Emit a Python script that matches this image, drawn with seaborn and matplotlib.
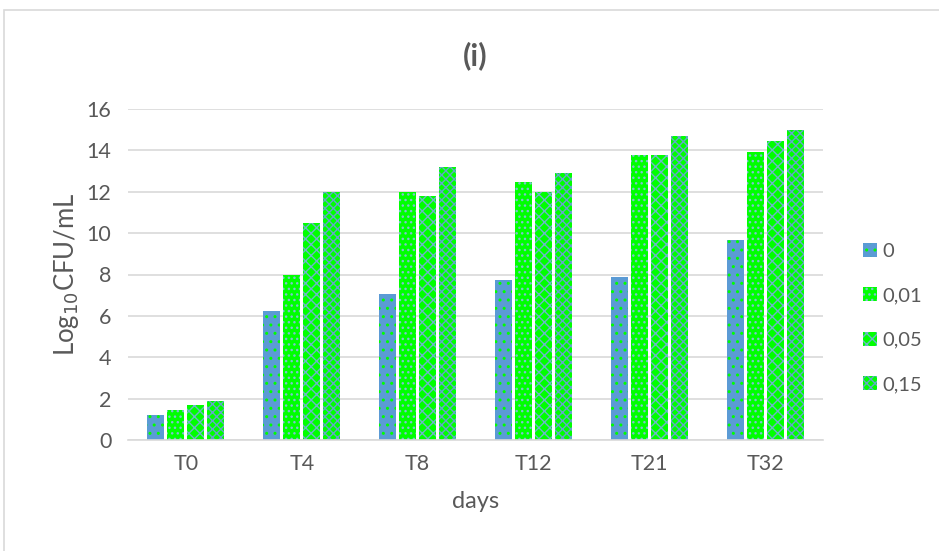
import numpy as np
import pandas as pd
import seaborn as sns
import matplotlib.pyplot as plt
from matplotlib.patches import Rectangle

days = ['T0', 'T4', 'T8', 'T12', 'T21', 'T32']
conc_labels = ['0', '0,01', '0,05', '0,15']
vals_0 = [1.2, 6.25, 7.05, 7.75, 7.9, 9.65]
vals_001 = [1.45, 8.0, 12.0, 12.45, 13.8, 13.9]
vals_005 = [1.7, 10.5, 11.8, 12.0, 13.8, 14.45]
vals_015 = [1.9, 12.0, 13.2, 12.9, 14.7, 15.0]

df = pd.DataFrame({
    'day': days * 4,
    'conc': np.repeat(conc_labels, len(days)),
    'value': vals_0 + vals_001 + vals_005 + vals_015,
})

sns.set_style('white')
plt.rcParams['font.family'] = ['Lato', 'DejaVu Sans']
plt.rcParams['hatch.linewidth'] = 1.0

text_col = '#595959'
blue = '#5B9BD5'
green = '#00FF00'
face_cols = [blue, green, green, green]
hatch_cols = [green, '#7DC3D0', '#6BB8C8', '#62A8C8']
hatches = ['..', '...', 'xxx', 'xxxx']

fig = plt.figure(figsize=(9.39, 5.51), dpi=100)
ax = fig.add_axes([128 / 939, 1 - 440 / 551, 695 / 939, 331 / 551])

sns.barplot(data=df, x='day', y='value', hue='conc', order=days,
            hue_order=conc_labels, palette=face_cols, width=0.69, gap=0.15,
            ax=ax, saturation=1)

def style_patch(p, fc, hc, h):
    p.set_facecolor(fc)
    p.set_edgecolor(hc)
    p.set_hatch(h)
    p.set_linewidth(0)

for cont, fc, hc, h in zip(ax.containers, face_cols, hatch_cols, hatches):
    for bar in cont:
        style_patch(bar, fc, hc, h)

ax.set_ylim(0, 16)
ax.set_xlim(-0.5, 5.5)
ax.set_yticks(range(0, 17, 2))
ax.yaxis.grid(True, color='#D9D9D9', linewidth=1.2)
ax.set_axisbelow(True)
for s in ['top', 'right', 'left']:
    ax.spines[s].set_visible(False)
ax.spines['bottom'].set_color('#D9D9D9')
ax.spines['bottom'].set_linewidth(1.2)
ax.tick_params(axis='both', length=0, labelsize=15.5, colors=text_col, pad=10)
ax.tick_params(axis='y', pad=12)

ax.set_xlabel('days', fontsize=17, color=text_col, labelpad=12)
ax.set_ylabel('Log$_{10}$CFU/mL', fontsize=18.5, color=text_col, labelpad=4)
fig.text(475 / 939, 1 - 56 / 551, '(i)', ha='center', va='center',
         fontsize=22, fontweight='bold', color=text_col)

leg = ax.legend(loc='center left', bbox_to_anchor=(863 / 939, 1 - 318 / 551),
                bbox_transform=fig.transFigure, frameon=False, fontsize=14.5,
                labelspacing=1.35, handlelength=0.7, handleheight=0.7,
                handletextpad=0.25, borderaxespad=0, borderpad=0)
for t in leg.get_texts():
    t.set_color(text_col)
for p, fc, hc, h in zip(leg.legend_handles, face_cols, hatch_cols, hatches):
    style_patch(p, fc, hc, h)

fig.patches.append(Rectangle((4 / 939, -0.1), 2.0, 1 - 10 / 551 + 0.1,
                             transform=fig.transFigure, fill=False,
                             edgecolor='#D9D9D9', linewidth=1.2))

fig.savefig('out.png', dpi=100)
